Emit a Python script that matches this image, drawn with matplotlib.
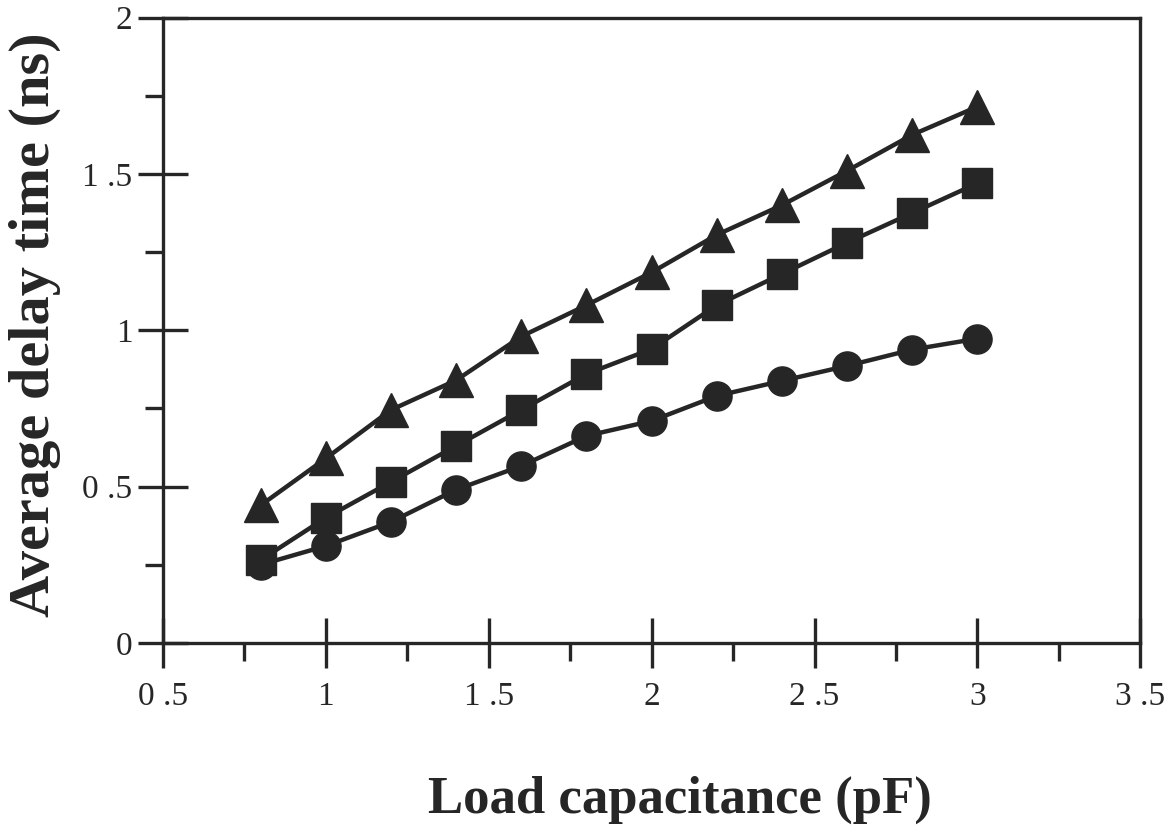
import numpy as np
import matplotlib
matplotlib.use("Agg")
import matplotlib.pyplot as plt
from matplotlib.ticker import MultipleLocator, FixedLocator, FixedFormatter

matplotlib.rcParams["font.family"] = ["Liberation Serif", "DejaVu Serif"]

load_cap = [0.8, 1.0, 1.2, 1.4, 1.6, 1.8, 2.0, 2.2, 2.4, 2.6, 2.8, 3.0]
delay_tri = [0.44, 0.59, 0.745, 0.84, 0.98, 1.08, 1.185, 1.305, 1.40, 1.51, 1.625, 1.715]
delay_sq = [0.265, 0.40, 0.515, 0.63, 0.745, 0.86, 0.94, 1.08, 1.18, 1.28, 1.375, 1.47]
delay_circ = [0.25, 0.31, 0.387, 0.49, 0.566, 0.662, 0.71, 0.79, 0.838, 0.886, 0.938, 0.973]

x_ticks = [0.5, 1.0, 1.5, 2.0, 2.5, 3.0, 3.5]
x_tick_labels = ["0 .5", "1", "1 .5", "2", "2 .5", "3", "3 .5"]
y_ticks = [0, 0.5, 1.0, 1.5, 2.0]
y_tick_labels = ["0", "0 .5", "1", "1 .5", "2"]

ink = "#262626"

fig = plt.figure(figsize=(11.72, 8.36), dpi=100)
ax = fig.add_axes([0.139, 0.231, 0.834, 0.748])

ax.plot(load_cap, delay_tri, "-", color=ink, lw=3.2, marker="^", ms=25, zorder=3)
ax.plot(load_cap, delay_sq, "-", color=ink, lw=3.2, marker="s", ms=22, zorder=3)
ax.plot(load_cap, delay_circ, "-", color=ink, lw=3.2, marker="o", ms=21, zorder=3)

ax.set_xlim(0.5, 3.5)
ax.set_ylim(0, 2)

ax.xaxis.set_major_locator(FixedLocator(x_ticks))
ax.xaxis.set_major_formatter(FixedFormatter(x_tick_labels))
ax.yaxis.set_major_locator(FixedLocator(y_ticks))
ax.yaxis.set_major_formatter(FixedFormatter(y_tick_labels))
ax.xaxis.set_minor_locator(MultipleLocator(0.25))
ax.yaxis.set_minor_locator(MultipleLocator(0.25))

for s in ax.spines.values():
    s.set_linewidth(2.4)
    s.set_color(ink)

ax.tick_params(axis="both", which="major", direction="inout", length=36,
               width=2.4, color=ink, labelsize=24, labelcolor=ink)
ax.tick_params(axis="both", which="minor", direction="out", length=13,
               width=2.4, color=ink)
ax.tick_params(axis="x", which="major", pad=10)
ax.tick_params(axis="y", which="major", pad=4)

ax.set_xlabel("Load capacitance (pF)", fontsize=38, fontweight="bold", color=ink)
ax.set_ylabel("Average delay time (ns)", fontsize=42, fontweight="bold", color=ink)
ax.xaxis.label.set_va("center")
ax.yaxis.label.set_va("center")
ax.xaxis.set_label_coords(0.529, -0.251)
ax.yaxis.set_label_coords(-0.131, 0.509)

fig.savefig("out.png", dpi=100)
